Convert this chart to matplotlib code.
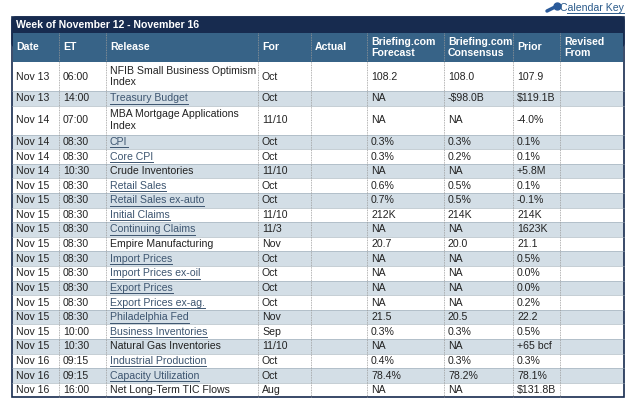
import matplotlib.pyplot as plt
from matplotlib.patches import Rectangle, FancyBboxPatch

plt.rcParams['font.family'] = ['Liberation Sans', 'DejaVu Sans']

title = 'Week of November 12 - November 16'
headers = ['Date', 'ET', 'Release', 'For', 'Actual', 'Briefing.com\nForecast',
           'Briefing.com\nConsensus', 'Prior', 'Revised\nFrom']
dates = ['Nov 13', 'Nov 13', 'Nov 14', 'Nov 14', 'Nov 14', 'Nov 14', 'Nov 15', 'Nov 15',
         'Nov 15', 'Nov 15', 'Nov 15', 'Nov 15', 'Nov 15', 'Nov 15', 'Nov 15', 'Nov 15',
         'Nov 15', 'Nov 15', 'Nov 16', 'Nov 16', 'Nov 16']
times = ['06:00', '14:00', '07:00', '08:30', '08:30', '10:30', '08:30', '08:30', '08:30',
         '08:30', '08:30', '08:30', '08:30', '08:30', '08:30', '08:30', '10:00', '10:30',
         '09:15', '09:15', '16:00']
releases = ['NFIB Small Business Optimism\nIndex', 'Treasury Budget',
            'MBA Mortgage Applications\nIndex', 'CPI', 'Core CPI', 'Crude Inventories',
            'Retail Sales', 'Retail Sales ex-auto', 'Initial Claims', 'Continuing Claims',
            'Empire Manufacturing', 'Import Prices', 'Import Prices ex-oil', 'Export Prices',
            'Export Prices ex-ag.', 'Philadelphia Fed', 'Business Inventories',
            'Natural Gas Inventories', 'Industrial Production', 'Capacity Utilization',
            'Net Long-Term TIC Flows']
is_link = [False, True, False, True, True, False, True, True, True, True, False, True, True,
           True, True, True, True, False, True, True, False]
periods = ['Oct', 'Oct', '11/10', 'Oct', 'Oct', '11/10', 'Oct', 'Oct', '11/10', '11/3', 'Nov',
           'Oct', 'Oct', 'Oct', 'Oct', 'Nov', 'Sep', '11/10', 'Oct', 'Oct', 'Aug']
forecast = ['108.2', 'NA', 'NA', '0.3%', '0.3%', 'NA', '0.6%', '0.7%', '212K', 'NA', '20.7',
            'NA', 'NA', 'NA', 'NA', '21.5', '0.3%', 'NA', '0.4%', '78.4%', 'NA']
consensus = ['108.0', '-$98.0B', 'NA', '0.3%', '0.2%', 'NA', '0.5%', '0.5%', '214K', 'NA',
             '20.0', 'NA', 'NA', 'NA', 'NA', '20.5', '0.3%', 'NA', '0.3%', '78.2%', 'NA']
prior = ['107.9', '$119.1B', '-4.0%', '0.1%', '0.1%', '+5.8M', '0.1%', '-0.1%', '214K',
         '1623K', '21.1', '0.5%', '0.0%', '0.0%', '0.2%', '22.2', '0.5%', '+65 bcf', '0.3%',
         '78.1%', '$131.8B']

col_x = [12, 59, 106, 258, 311, 367, 444, 513, 560, 624]
navy = '#172b4f'
head_c = '#376387'
gray_c = '#d3dee6'
link_c = '#3d5570'
txt_c = '#222222'
fs = 7.6

fig = plt.figure(figsize=(6.4, 4.08), dpi=100)
ax = fig.add_axes([0, 0, 1, 1])
ax.set_xlim(0, 640)
ax.set_ylim(408, 0)
ax.axis('off')

# title bar and header
ax.add_patch(FancyBboxPatch((12, 17), 612, 30, boxstyle='round,pad=0,rounding_size=4',
                            fc=navy, ec=navy))
ax.text(16, 25.5, title, color='white', fontsize=fs, weight='bold', va='center')
ax.add_patch(Rectangle((13, 33), 610, 29, fc=head_c, ec='none'))
for i, h in enumerate(headers):
    ax.text(col_x[i] + 4, 47.5, h, color='white', fontsize=fs, weight='bold', va='center',
            linespacing=1.1)

# row geometry
y = 62
tops = []
for r in releases:
    h = 29 if '\n' in r else 14.6
    tops.append((y, h))
    y += h
bottom = y
ax.add_patch(Rectangle((12, 62), 612, bottom - 62, fc='white', ec='none'))

fig.canvas.draw()
rend = fig.canvas.get_renderer()
for k, (t, h) in enumerate(tops):
    if k % 2 == 1:
        ax.add_patch(Rectangle((12, t), 612, h, fc=gray_c, ec='none'))
    cy = t + h / 2
    vals = [dates[k], times[k], releases[k], periods[k], '', forecast[k], consensus[k], prior[k], '']
    for i, v in enumerate(vals):
        if not v:
            continue
        link = i == 2 and is_link[k]
        tx = ax.text(col_x[i] + 4, cy, v, fontsize=fs, va='center', linespacing=1.2,
                     color=link_c if link else txt_c)
        if link:
            bb = tx.get_window_extent(rend)
            ax.plot([col_x[i] + 4, col_x[i] + 4 + bb.width], [cy + 5.5, cy + 5.5],
                    color=link_c, lw=0.7)
    if k > 0:
        ax.plot([12, 624], [t, t], color='#9aa9b5', lw=0.4)

for x in col_x[1:-1]:
    ax.plot([x, x], [33, bottom], color='#999999', lw=0.6, ls=(0, (1, 1)))
ax.add_patch(Rectangle((12, 17), 612, bottom - 17, fc='none', ec=navy, lw=1.2))

# calendar key link
ax.text(624, 8, 'Calendar Key', color='#2a5a8a', fontsize=fs, ha='right', va='center')
ax.plot([567, 624], [13, 13], color='#2a5a8a', lw=0.7)
ax.plot([547, 554], [11, 7.5], color='#2a5a9a', lw=2.5, solid_capstyle='round')
ax.plot([557], [6], 'o', color='#2a5a9a', ms=5)

fig.savefig('out.png', dpi=100)
